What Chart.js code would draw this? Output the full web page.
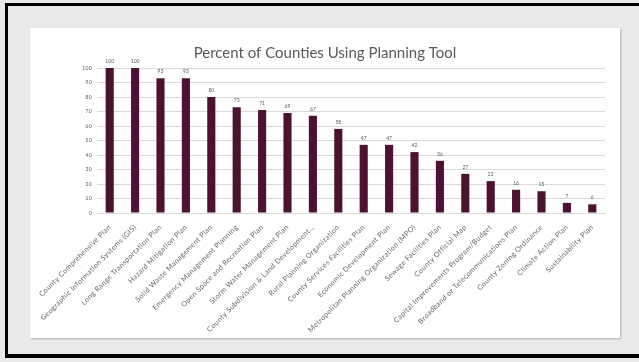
<!DOCTYPE html>
<html lang="en">
<head>
    <meta charset="UTF-8">
    <title>Percent of Counties Using Planning Tool</title>
    <script src="https://cdn.jsdelivr.net/npm/chart.js"></script>
    <style>
        html, body {
            margin: 0;
            padding: 0;
        }

        body {
            width: 639px;
            height: 362px;
            background: #e9e9e9;
            position: relative;
            overflow: hidden;
        }

        .frame {
            position: absolute;
            left: 5px;
            top: 3px;
            width: 634px;
            height: 355px;
            border-left: 3px solid #000;
            border-top: 3px solid #000;
            border-bottom: 4px solid #000;
            box-sizing: border-box;
        }

        .card {
            position: absolute;
            left: 30px;
            top: 28px;
            width: 590px;
            height: 310px;
            background: #fff;
            box-shadow: 1px 1px 2px rgba(0, 0, 0, 0.25);
        }

        canvas {
            display: block;
        }
    </style>
</head>
<body>
    <div class="frame"></div>
    <div class="card">
        <canvas id="chart" width="590" height="310"></canvas>
    </div>

    <script>
        const categories = [
            "County Comprehensive Plan",
            "Geographic Information Systems (GIS)",
            "Long Range Transportation Plan",
            "Hazard Mitigation Plan",
            "Solid Waste Management Plan",
            "Emergency Management Planning",
            "Open Space and Recreation Plan",
            "Storm Water Management Plan",
            "County Subdivision & Land Development…",
            "Rural Planning Organization",
            "County Services Facilities Plan",
            "Economic Development Plan",
            "Metropolitan Planning Organization (MPO)",
            "Sewage Facilities Plan",
            "County Official Map",
            "Capital Improvements Program/Budget",
            "Broadband or Telecommunications Plan",
            "County Zoning Ordinance",
            "Climate Action Plan",
            "Sustainability Plan"
        ];
        const percentValues = [100, 100, 93, 93, 80, 73, 71, 69, 67, 58, 47, 47, 42, 36, 27, 22, 16, 15, 7, 6];
        const yTicks = [0, 10, 20, 30, 40, 50, 60, 70, 80, 90, 100];
        const chartTitle = "Percent of Counties Using Planning Tool";

        const fontFamily = "Lato, 'Open Sans', sans-serif";

        // espaçamento das letras nos eixos, valores nas barras e título
        const extras = {
            id: "extras",
            beforeDraw(chart) {
                chart.ctx.letterSpacing = "0.35px";
            },
            afterDatasetsDraw(chart) {
                const ctx = chart.ctx;
                ctx.letterSpacing = "0px";
                const meta = chart.getDatasetMeta(0);
                ctx.save();
                ctx.font = "5px " + fontFamily;
                ctx.fillStyle = "#595959";
                ctx.textAlign = "center";
                ctx.textBaseline = "bottom";
                meta.data.forEach((bar, i) => {
                    ctx.fillText(percentValues[i], bar.x, bar.y - 4);
                });
                ctx.restore();
            },
            afterDraw(chart) {
                const ctx = chart.ctx;
                ctx.save();
                ctx.letterSpacing = "0px";
                ctx.font = "15px " + fontFamily;
                ctx.fillStyle = "#595959";
                ctx.textAlign = "center";
                ctx.textBaseline = "middle";
                ctx.fillText(chartTitle, chart.width / 2, 25);
                ctx.restore();
            }
        };

        const ctx = document.getElementById("chart").getContext("2d");
        new Chart(ctx, {
            type: "bar",
            data: {
                labels: categories,
                datasets: [
                    {
                        label: "Percent",
                        data: percentValues,
                        backgroundColor: "#4b1331",
                        borderWidth: 0,
                        categoryPercentage: 1,
                        barPercentage: 0.32,
                    },
                ],
            },
            options: {
                responsive: false,
                animation: false,
                layout: {
                    padding: { left: 15, right: 15, top: 40, bottom: 0 },
                },
                plugins: {
                    legend: { display: false },
                    tooltip: { enabled: false },
                    title: { display: false },
                },
                scales: {
                    x: {
                        grid: { display: false },
                        border: { color: "#d9d9d9" },
                        ticks: {
                            autoSkip: false,
                            minRotation: 45,
                            maxRotation: 45,
                            padding: 2,
                            color: "#666666",
                            font: { family: fontFamily, size: 7.2 },
                        },
                        afterFit(scale) {
                            scale.height = 125;
                        },
                    },
                    y: {
                        min: 0,
                        max: 100,
                        afterBuildTicks(scale) {
                            scale.ticks = yTicks.map(v => ({ value: v }));
                        },
                        grid: { color: "#d9d9d9", drawTicks: false },
                        border: { display: false },
                        ticks: {
                            padding: 5,
                            color: "#595959",
                            font: { family: fontFamily, size: 5 },
                        },
                        afterFit(scale) {
                            scale.width = 52;
                        },
                    },
                },
            },
            plugins: [extras],
        });
    </script>
</body>
</html>
